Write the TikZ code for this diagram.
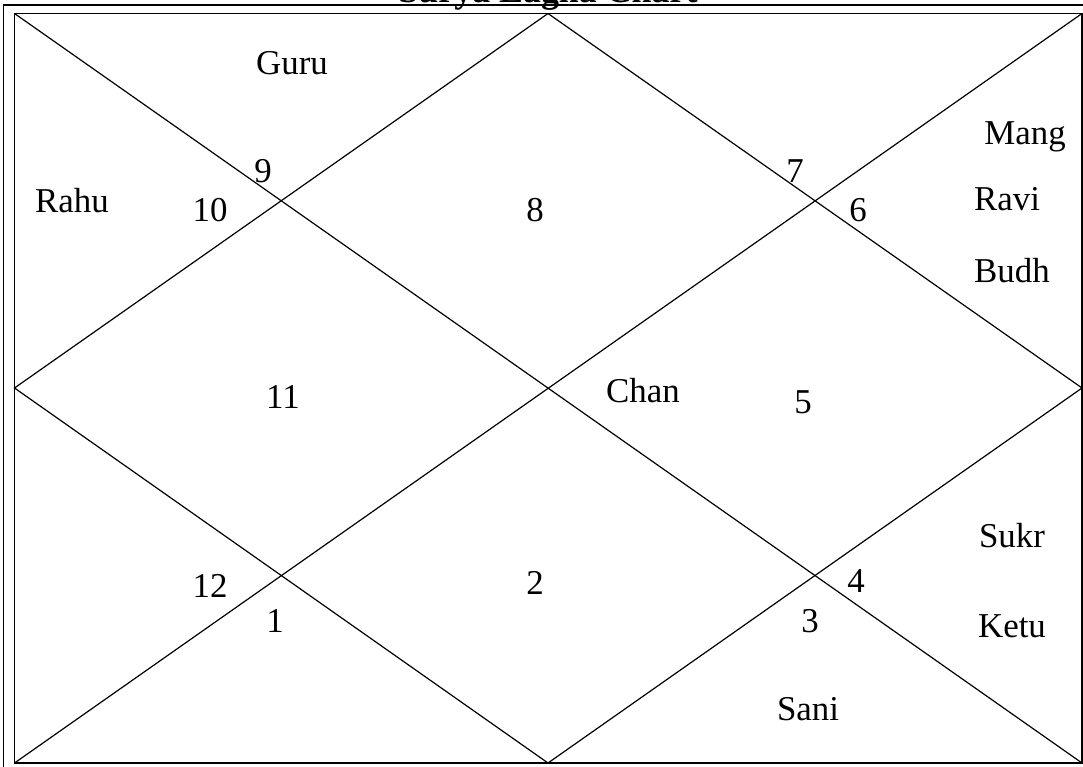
\documentclass[tikz,border=0pt]{standalone}
\usepackage{fontspec}
\setmainfont{Liberation Serif}
\begin{document}
\begin{tikzpicture}[x=1bp,y=-1bp,
  frame/.style={line width=1.3bp},
  grid/.style={line width=1.2bp},
  lbl/.style={anchor=base,inner sep=0pt,font=\fontsize{35}{40}\selectfont},
  ttl/.style={anchor=base,inner sep=0pt,font=\fontsize{36}{40}\selectfont\bfseries}]
\useasboundingbox (0,0) rectangle (1083,767);
% outer frame (partly outside)
\draw[frame] (3.5,5) rectangle (1100,790);
% chart box corners
\coordinate (tl) at (14.5,13.5);
\coordinate (tr) at (1082,13.5);
\coordinate (bl) at (14.5,763);
\coordinate (br) at (1082,763);
\coordinate (tm) at (548,13.5);
\coordinate (bm) at (548,763);
\coordinate (lm) at (14.5,388);
\coordinate (rm) at (1082,388);
\draw[frame] (tl) -- (tr) -- (br) -- (bl) -- cycle;
\draw[grid] (tl) -- (br);
\draw[grid] (tr) -- (bl);
\draw[grid] (tm) -- (rm) -- (bm) -- (lm) -- cycle;
% title
\node[ttl] (title) at (548,3) {Surya Lagna Chart};
% house numbers
\node[lbl] (h9) at (263,182) {9};
\node[lbl] (h10) at (210,221) {10};
\node[lbl] (h8) at (535,221) {8};
\node[lbl] (h7) at (795,182) {7};
\node[lbl] (h6) at (858,221) {6};
\node[lbl] (h11) at (283,408) {11};
\node[lbl] (h5) at (803,413) {5};
\node[lbl] (h2) at (535,594) {2};
\node[lbl] (h12) at (210,597) {12};
\node[lbl] (h1) at (275,632) {1};
\node[lbl] (h4) at (856,592) {4};
\node[lbl] (h3) at (810,632) {3};
% planets
\node[lbl] (guru) at (292,75) {Guru};
\node[lbl] (rahu) at (72,212) {Rahu};
\node[lbl] (mang) at (1025,144) {Mang};
\node[lbl] (ravi) at (1007,210) {Ravi};
\node[lbl] (budh) at (1012,282) {Budh};
\node[lbl] (chan) at (643,402) {Chan};
\node[lbl] (sukr) at (1012,547) {Sukr};
\node[lbl] (ketu) at (1012,637) {Ketu};
\node[lbl] (sani) at (808,720) {Sani};
\end{tikzpicture}
\end{document}
